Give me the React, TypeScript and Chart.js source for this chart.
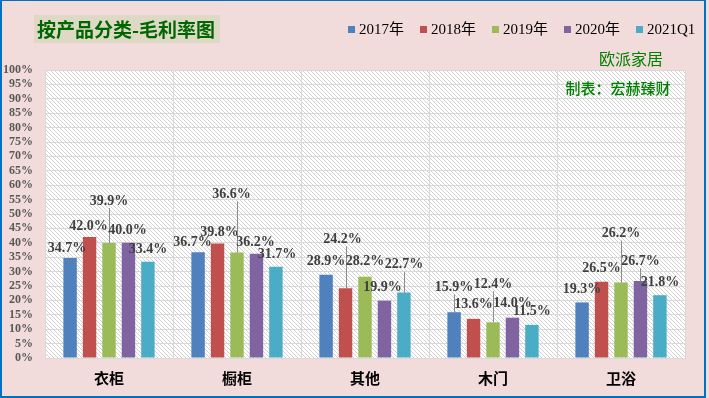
import React, { useEffect, useRef } from "react";
import { Chart, registerables } from "chart.js";

Chart.register(...registerables);

// ---- data ----
const categories = ["衣柜", "橱柜", "其他", "木门", "卫浴"];
const seriesNames = ["2017年", "2018年", "2019年", "2020年", "2021Q1"];
const v2017 = [34.7, 36.7, 28.9, 15.9, 19.3];
const v2018 = [42.0, 39.8, 24.2, 13.6, 26.5];
const v2019 = [39.9, 36.6, 28.2, 12.4, 26.2];
const v2020 = [40.0, 36.2, 19.9, 14.0, 26.7];
const v2021Q1 = [33.4, 31.7, 22.7, 11.5, 21.8];
const seriesValues = [v2017, v2018, v2019, v2020, v2021Q1];
const yMin = 0;
const yMax = 100;
const yStep = 5;
const chartTitle = "按产品分类-毛利率图";
const companyText = "欧派家居";
const authorText = "制表：宏赫臻财";

// ---- styles / layout ----
const colors = ["#4F81BD", "#C0504D", "#9BBB59", "#8064A2", "#4BACC6"];
// label offsets (dx, dy) in px relative to default position above bar
const labelOffsets = [
  [[-3, 0], [-5.5, 0], [0, -3.4], [0, -15], [0, -3]],
  [[-1, -1], [2, -1], [-3, -39], [0, -4], [0, -3]],
  [[0, -32], [-5.5, -48], [0, -5], [0, -28], [0, -39]],
  [[-1, -2], [-1, -1], [-2, -3], [0, -4], [0, -10]],
  [[0, -2], [1, -2], [0, -18], [0, -3], [0, -3]],
];

const SERIF = "'Liberation Serif', 'Times New Roman', 'Noto Sans CJK SC', serif";
const CJK = "'Noto Sans CJK SC', sans-serif";

function makeHatch(): CanvasPattern | string {
  const c = document.createElement("canvas");
  c.width = 4;
  c.height = 4;
  const g = c.getContext("2d");
  if (!g) return "#ffffff";
  g.fillStyle = "#ffffff";
  g.fillRect(0, 0, 4, 4);
  g.strokeStyle = "#d2d2d2";
  g.lineWidth = 1;
  g.beginPath();
  g.moveTo(-1, -1);
  g.lineTo(5, 5);
  g.moveTo(-1, 3);
  g.lineTo(1, 5);
  g.moveTo(3, -1);
  g.lineTo(5, 1);
  g.stroke();
  const p = g.createPattern(c, "repeat");
  return p || "#ffffff";
}

const decorPlugin = {
  id: "decor",
  beforeDraw(chart: any) {
    const { ctx, chartArea } = chart;
    ctx.save();
    ctx.fillStyle = makeHatch();
    ctx.fillRect(chartArea.left, chartArea.top, chartArea.right - chartArea.left, chartArea.bottom - chartArea.top);
    ctx.restore();
  },
  afterDatasetsDraw(chart: any) {
    const { ctx } = chart;
    ctx.save();
    ctx.font = "bold 14px " + SERIF;
    ctx.textAlign = "center";
    ctx.textBaseline = "middle";
    seriesValues.forEach((vals, i) => {
      const meta = chart.getDatasetMeta(i);
      vals.forEach((v, j) => {
        const bar = meta.data[j];
        const [dx, dy] = labelOffsets[i][j];
        const lx = bar.x + dx;
        const ly = bar.y - 10 + dy;
        if (dy < -8) {
          ctx.strokeStyle = "#8c8c8c";
          ctx.lineWidth = 1;
          ctx.beginPath();
          const xx = Math.round(bar.x) + 0.5;
          ctx.moveTo(xx, ly + 7);
          ctx.lineTo(xx, bar.y);
          ctx.stroke();
        }
        ctx.fillStyle = "#404040";
        ctx.fillText(v.toFixed(1) + "%", lx, ly);
      });
    });
    ctx.restore();
  },
  afterDraw(chart: any) {
    const { ctx } = chart;
    ctx.save();
    // title box
    ctx.fillStyle = "#DDD9C4";
    ctx.fillRect(34, 15, 186, 28);
    ctx.fillStyle = "#006600";
    ctx.font = "bold 19px " + CJK;
    ctx.textAlign = "left";
    ctx.textBaseline = "middle";
    ctx.fillText(chartTitle, 37, 30);
    // legend
    ctx.font = "15px " + SERIF;
    let x = 348;
    seriesNames.forEach((name, i) => {
      ctx.fillStyle = colors[i];
      ctx.fillRect(x, 26, 7, 7);
      ctx.fillStyle = "#000000";
      ctx.textBaseline = "middle";
      ctx.fillText(name, x + 11, 30);
      x += 11 + ctx.measureText(name).width + 16;
    });
    // annotations
    ctx.fillStyle = "#008000";
    ctx.font = "16px " + CJK;
    ctx.textAlign = "center";
    ctx.fillText(companyText, 631, 59);
    ctx.font = "500 15px " + CJK;
    ctx.fillText(authorText, 618, 88);
    ctx.restore();
  },
};

export default function App() {
  const ref = useRef<HTMLCanvasElement | null>(null);
  useEffect(() => {
    document.body.style.margin = "0";
    if (!ref.current) return;
    const chart = new Chart(ref.current, {
      type: "bar",
      data: {
        labels: categories,
        datasets: seriesNames.map((name, i) => ({
          label: name,
          data: seriesValues[i],
          backgroundColor: colors[i],
          borderWidth: 0,
          categoryPercentage: 0.76,
          barPercentage: 0.69,
        })),
      },
      options: {
        animation: false,
        responsive: true,
        maintainAspectRatio: false,
        layout: { padding: { top: 70, right: 24, bottom: 0, left: 0 } },
        plugins: { legend: { display: false }, tooltip: { enabled: false } },
        scales: {
          x: {
            grid: { display: true, offset: true, color: "#D9D9D9", drawTicks: false },
            border: { display: true, color: "#D9D9D9" },
            ticks: { color: "#000000", font: { family: CJK, size: 15, weight: "bold" }, padding: 11 },
            afterFit: (s: any) => {
              s.height = 40;
            },
          },
          y: {
            min: yMin,
            max: yMax,
            grid: { color: "#D9D9D9", drawTicks: false },
            border: { display: true, color: "#D9D9D9" },
            ticks: {
              stepSize: yStep,
              autoSkip: false,
              color: "#595959",
              font: { family: SERIF, size: 12, weight: "bold" },
              padding: 12,
              callback: (v: any) => v + "%",
            },
            afterFit: (s: any) => {
              s.width = 45;
            },
          },
        },
      } as any,
      plugins: [decorPlugin],
    });
    return () => chart.destroy();
  }, []);

  return (
    <div style={{ position: "fixed", left: 0, top: 0, width: 709, height: 398, background: "#F2DCDB" }}>
      <canvas ref={ref} />
      <div
        style={{
          position: "absolute",
          left: 0,
          top: 0,
          width: 706,
          height: 398,
          boxSizing: "border-box",
          borderStyle: "solid",
          borderColor: "#0070C0",
          borderWidth: "1px 2px 2px 2px",
          pointerEvents: "none",
        }}
      />
    </div>
  );
}
